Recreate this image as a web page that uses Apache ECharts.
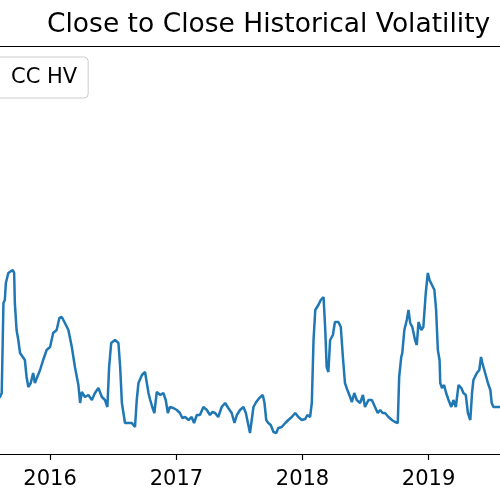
<!DOCTYPE html>
<html>
<head>
<meta charset="utf-8">
<script src="https://cdn.jsdelivr.net/npm/echarts@6/dist/echarts.min.js"></script>
<style>
html,body{margin:0;padding:0;background:#fff;}
#chart{width:500px;height:500px;}
</style>
</head>
<body>
<div id="chart"></div>
<script>
var titleText = 'Close to Close Historical Volatility';
var seriesName = 'CC HV';
var yearTicks = ['2016', '2017', '2018', '2019'];
var viewStart = '2015-08-09';
var viewEnd = '2019-07-27';

var dates = [
'2015-07-20','2015-08-09','2015-08-14','2015-08-19','2015-08-23','2015-08-26','2015-09-02','2015-09-15','2015-09-19','2015-09-21',
'2015-09-26','2015-10-01','2015-10-06','2015-10-14','2015-10-20','2015-10-25','2015-10-30','2015-11-06','2015-11-13','2015-11-18',
'2015-11-23','2015-12-03','2015-12-12','2015-12-22','2016-01-01','2016-01-10','2016-01-20','2016-01-28','2016-02-04','2016-02-13',
'2016-02-23','2016-03-04','2016-03-13','2016-03-23','2016-03-28','2016-04-02','2016-04-11','2016-04-21','2016-05-01','2016-05-10',
'2016-05-20','2016-05-30','2016-06-08','2016-06-15','2016-06-20','2016-06-26','2016-07-07','2016-07-17','2016-07-22','2016-07-27',
'2016-08-05','2016-08-15','2016-08-25','2016-09-03','2016-09-08','2016-09-13','2016-09-23','2016-10-02','2016-10-07','2016-10-12',
'2016-10-17','2016-10-23','2016-10-29','2016-11-05','2016-11-15','2016-11-24','2016-12-01','2016-12-07','2016-12-13','2016-12-23',
'2017-01-02','2017-01-11','2017-01-18','2017-01-26','2017-02-05','2017-02-14','2017-02-21','2017-03-01','2017-03-10','2017-03-20',
'2017-03-30','2017-04-08','2017-04-15','2017-04-23','2017-05-02','2017-05-12','2017-05-22','2017-05-31','2017-06-10','2017-06-18',
'2017-06-25','2017-07-04','2017-07-14','2017-07-21','2017-07-27','2017-08-02','2017-08-07','2017-08-12','2017-08-20','2017-08-29',
'2017-09-08','2017-09-13','2017-09-18','2017-09-24','2017-10-01','2017-10-09','2017-10-17','2017-10-23','2017-11-02','2017-11-12',
'2017-11-21','2017-12-01','2017-12-11','2017-12-20','2017-12-30','2018-01-09','2018-01-15','2018-01-23','2018-01-28','2018-02-02',
'2018-02-07','2018-02-16','2018-02-23','2018-03-03','2018-03-08','2018-03-12','2018-03-17','2018-03-22','2018-03-30','2018-04-05',
'2018-04-15','2018-04-22','2018-04-28','2018-05-04','2018-05-11','2018-05-19','2018-05-24','2018-05-31','2018-06-07','2018-06-17',
'2018-06-25','2018-07-01','2018-07-11','2018-07-21','2018-07-30','2018-08-07','2018-08-14','2018-08-21','2018-08-28','2018-09-07',
'2018-09-17','2018-09-26','2018-10-04','2018-10-08','2018-10-14','2018-10-17','2018-10-23','2018-10-30','2018-11-04','2018-11-09',
'2018-11-15','2018-11-23','2018-11-28','2018-12-03','2018-12-11','2018-12-17','2018-12-24','2018-12-30','2019-01-04','2019-01-11',
'2019-01-18','2019-01-23','2019-01-28','2019-02-02','2019-02-04','2019-02-09','2019-02-15','2019-02-21','2019-02-28','2019-03-08',
'2019-03-14','2019-03-21','2019-03-29','2019-04-06','2019-04-12','2019-04-19','2019-04-25','2019-05-02','2019-05-07','2019-05-11',
'2019-05-21','2019-05-28','2019-06-02','2019-06-06','2019-06-14','2019-06-22','2019-06-29','2019-07-03','2019-07-08','2019-07-18',
'2019-07-28','2019-08-05'
];

var hv = [
7.4,7.7,8.1,17.1,17.4,19.1,20.1,20.4,20.1,17.1,
14.4,13.4,12.1,11.7,11.4,9.7,8.7,9.1,10.1,9.1,
8.9,10.4,11.4,12.4,12.7,14.1,14.4,15.6,15.7,15.1,
14.4,12.7,10.7,8.9,7.1,8.2,7.7,7.9,7.4,8.1,
8.6,7.7,7.4,6.7,10.7,13.1,13.4,13.1,10.7,7.1,
5.1,5.1,5.1,4.7,7.4,9.1,9.9,10.2,10.1,8.1,
7.4,6.7,6.1,8.2,7.9,8.1,7.4,6.1,6.7,6.6,
6.4,6.1,5.6,5.7,5.4,5.7,5.1,5.9,5.9,6.7,
6.4,5.9,6.2,6.1,5.7,6.7,7.1,6.6,6.1,5.1,
5.9,6.4,6.7,6.1,5.1,4.1,5.4,6.7,7.2,7.6,
7.9,7.1,5.4,5.1,4.9,4.2,4.1,4.6,4.7,5.1,
5.4,5.7,6.1,5.7,5.4,5.5,5.9,5.7,7.1,13.4,
16.4,16.9,17.4,17.7,14.4,10.7,10.2,13.4,13.9,15.2,
15.2,14.7,11.7,9.1,8.4,7.7,7.2,8.1,7.4,7.1,
7.9,6.7,7.4,7.4,6.7,6.1,6.4,6.1,6.1,5.7,
5.4,5.2,5.1,9.7,11.7,12.1,14.4,15.4,16.4,15.1,
14.7,13.4,12.9,15.2,14.4,14.7,18.1,20.1,19.4,18.9,
18.4,16.4,12.4,11.4,9.1,8.6,8.9,8.1,7.4,6.7,
7.4,6.7,8.9,8.6,8.1,7.9,6.1,5.4,8.1,9.4,
10.1,10.4,11.7,11.1,10.1,9.1,8.4,7.1,6.7,6.7,
6.7,6.9
];

var chart = echarts.init(document.getElementById('chart'), null, {renderer: 'canvas'});
var font = 'DejaVu Sans';
function ts(s) { return Date.parse(s + 'T00:00:00Z'); }
var tickValues = yearTicks.map(function (y) { return ts(y + '-01-01'); });

chart.setOption({
  animation: false,
  backgroundColor: '#ffffff',
  title: {
    text: titleText,
    left: 42,
    top: 7,
    padding: 5,
    textStyle: {fontFamily: font, fontSize: 26.5, fontWeight: 'normal', color: '#000000'}
  },
  legend: {
    data: [seriesName],
    left: -51,
    top: 57,
    orient: 'vertical',
    padding: [10, 11, 10, 8],
    itemWidth: 40,
    itemHeight: 14,
    borderColor: '#cccccc',
    borderWidth: 1,
    borderRadius: 4,
    backgroundColor: 'rgba(255,255,255,0.8)',
    textStyle: {fontFamily: font, fontSize: 21, color: '#000000', padding: [0, 0, 0, 8]}
  },
  grid: {left: 0, right: 0, top: 46, bottom: 46, outerBoundsMode: 'none', containLabel: false},
  xAxis: [{
    type: 'value',
    min: ts(viewStart),
    max: ts(viewEnd),
    axisLine: {show: true, onZero: false, lineStyle: {color: '#000000', width: 1.2}},
    axisTick: {show: true, inside: false, length: 6, lineStyle: {color: '#000000', width: 1.2}, customValues: tickValues},
    axisLabel: {
      show: true,
      margin: 15,
      fontFamily: font,
      fontSize: 21,
      color: '#000000',
      customValues: tickValues,
      formatter: function (v) { return String(new Date(v).getUTCFullYear()); }
    },
    splitLine: {show: false}
  }, {
    type: 'value',
    position: 'top',
    min: 0,
    max: 1,
    axisLine: {show: true, onZero: false, lineStyle: {color: '#000000', width: 1.2}},
    axisTick: {show: false},
    axisLabel: {show: false},
    splitLine: {show: false}
  }],
  yAxis: {
    type: 'value',
    min: 2,
    max: 42.8,
    show: false,
    splitLine: {show: false}
  },
  series: [{
    name: seriesName,
    type: 'line',
    xAxisIndex: 0,
    showSymbol: false,
    symbol: 'none',
    lineStyle: {color: '#1f77b4', width: 2.5},
    itemStyle: {color: '#1f77b4'},
    data: dates.map(function (d, i) { return [ts(d), hv[i]]; })
  }]
});
</script>
</body>
</html>
